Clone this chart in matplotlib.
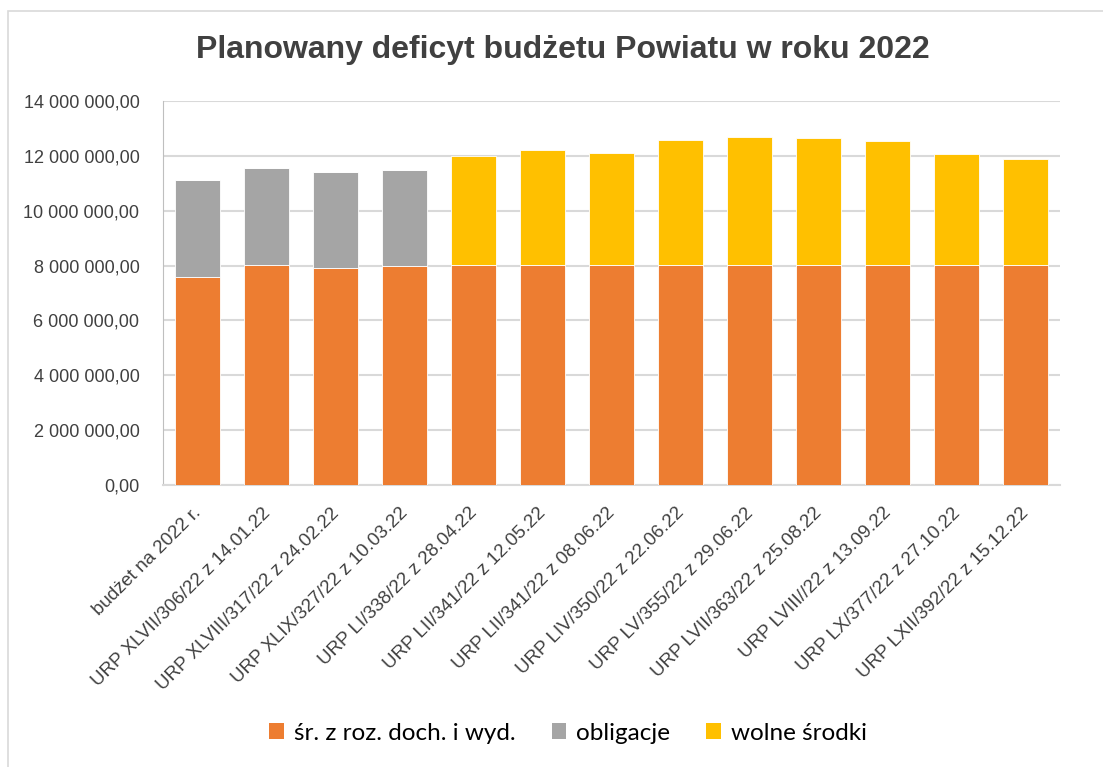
import matplotlib
matplotlib.use("Agg")
import matplotlib.pyplot as plt
from matplotlib.patches import Rectangle, Patch
from matplotlib.ticker import FuncFormatter, MultipleLocator
from matplotlib.transforms import ScaledTranslation
import numpy as np

categories = [
    "budżet na 2022 r.",
    "URP XLVII/306/22 z 14.01.22",
    "URP XLVIII/317/22 z 24.02.22",
    "URP XLIX/327/22 z 10.03.22",
    "URP LI/338/22 z 28.04.22",
    "URP LII/341/22 z 12.05.22",
    "URP LII/341/22 z 08.06.22",
    "URP LIV/350/22 z 22.06.22",
    "URP LV/355/22 z 29.06.22",
    "URP LVII/363/22 z 25.08.22",
    "URP LVIII//22 z 13.09.22",
    "URP LX/377/22 z 27.10.22",
    "URP LXII/392/22 z 15.12.22",
]
sr_roz = [7590000, 8030000, 7900000, 7970000, 8030000, 8030000, 8030000,
          8030000, 8030000, 8030000, 8030000, 8030000, 8030000]
obligacje = [3520000, 3530000, 3520000, 3530000, 0, 0, 0, 0, 0, 0, 0, 0, 0]
wolne = [0, 0, 0, 0, 3980000, 4180000, 4070000, 4540000, 4670000, 4630000,
         4500000, 4050000, 3840000]
series_names = ["śr. z roz. doch. i wyd.", "obligacje", "wolne środki"]
colors = ["#ED7D31", "#A5A5A5", "#FFC000"]

fig = plt.figure(figsize=(11.03, 7.67), dpi=100)
fig.patches.append(Rectangle((8 / 1103, -0.01), 1.1, 1 - 11 / 767 + 0.01,
                             transform=fig.transFigure, fill=False,
                             edgecolor="#D9D9D9", linewidth=1.2))
ax = fig.add_axes([163 / 1103, 1 - 485 / 767, (1060 - 163) / 1103, (485 - 101) / 767])

x = np.arange(len(categories))
w = 0.65
ax.bar(x, sr_roz, w, color=colors[0], edgecolor="white", linewidth=0.6, zorder=3)
ax.bar(x, obligacje, w, bottom=sr_roz, color=colors[1], edgecolor="white", linewidth=0.6, zorder=3)
bottom2 = np.array(sr_roz) + np.array(obligacje)
ax.bar(x, wolne, w, bottom=bottom2, color=colors[2], edgecolor="white", linewidth=0.6, zorder=3)

ax.set_xlim(-0.5, len(categories) - 0.5)
ax.set_ylim(0, 14000000)
ax.yaxis.set_major_locator(MultipleLocator(2000000))

def fmt(v, pos):
    s = f"{int(round(v)):,}".replace(",", " ")
    return s + ",00"

ax.yaxis.set_major_formatter(FuncFormatter(fmt))
ax.grid(axis="y", color="#D9D9D9", linewidth=1.5, zorder=0)
ax.set_axisbelow(True)
for s in ["top", "right"]:
    ax.spines[s].set_visible(False)
ax.spines["left"].set_color("#BFBFBF")
ax.spines["bottom"].set_color("#D9D9D9")
ax.spines["bottom"].set_linewidth(1.5)
ax.tick_params(axis="y", length=0, pad=17, labelsize=13, labelcolor="#404040")
ax.tick_params(axis="x", length=0, pad=14)
for lab in ax.get_yticklabels():
    lab.set_fontfamily("Liberation Sans")
ax.set_xticks(x)
ax.set_xticklabels(categories, rotation=45, ha="right", rotation_mode="anchor",
                   fontsize=13.5, color="#404040", fontfamily="Liberation Sans")
shift = ScaledTranslation(-5 / 100, 0, fig.dpi_scale_trans)
for lab in ax.get_xticklabels():
    lab.set_transform(lab.get_transform() + shift)

fig.text(563 / 1103, 1 - 50 / 767, "Planowany deficyt budżetu Powiatu w roku 2022",
         ha="center", va="center", fontsize=23, fontweight="bold",
         color="#404040", fontfamily="Liberation Sans")

handles = [Patch(facecolor=c, edgecolor="none") for c in colors]
fig.legend(handles, series_names, loc="center", bbox_to_anchor=(568 / 1103, 1 - 733 / 767),
           ncol=3, frameon=False, prop={"family": "Lato", "size": 17.5},
           handlelength=0.6, handleheight=0.6, handletextpad=0.4, columnspacing=1.5)

fig.savefig("out.png", dpi=100)
